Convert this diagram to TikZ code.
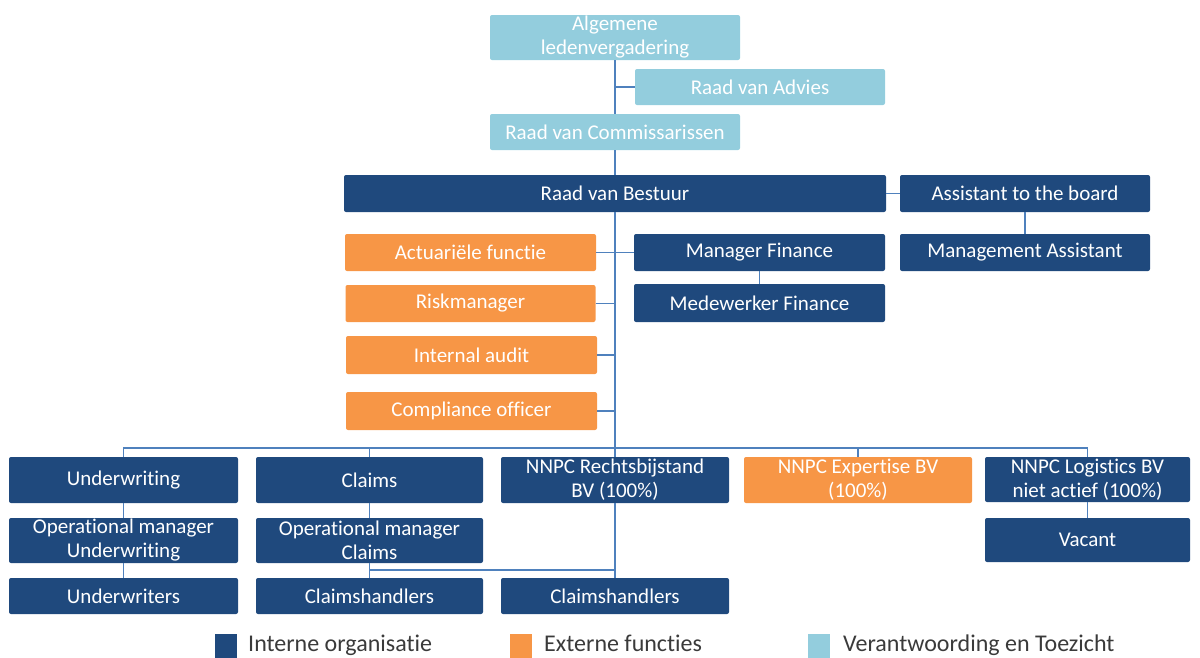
\documentclass[tikz,border=0pt]{standalone}
\usepackage{fontspec}
\setmainfont{Carlito}[Ligatures=NoCommon]
\usetikzlibrary{positioning}

\definecolor{navy}{HTML}{1F497D}
\definecolor{oranje}{HTML}{F79646}
\definecolor{lichtblauw}{HTML}{93CDDD}
\definecolor{lijn}{HTML}{4F81BD}
\definecolor{legendtext}{HTML}{3A3A3A}

\begin{document}
\begin{tikzpicture}[x=1pt, y=-1pt,
    box/.style={rectangle, rounded corners=2pt, text=white, align=center,
        inner sep=0pt, font=\fontsize{21}{24}\selectfont},
    intern/.style={box, fill=navy},
    extern/.style={box, fill=oranje},
    toezicht/.style={box, fill=lichtblauw},
    link/.style={draw=lijn, line width=1.5pt},
    key/.style={minimum width=22, minimum height=26, inner sep=0pt},
    legend/.style={text=legendtext, font=\fontsize{24}{26}\selectfont,
        inner sep=0pt, anchor=base west}]
    \useasboundingbox (0,0) rectangle (1200,657);

    % toezicht
    \node[toezicht, minimum width=250, minimum height=45] (alv) at (615,37.5) {Algemene\\ledenvergadering};
    \node[toezicht, minimum width=250, minimum height=36] (rva) at (760,87) {Raad van Advies};
    \node[toezicht, minimum width=250, minimum height=36] (rvc) at (615,132) {Raad van Commissarissen};

    % bestuur
    \node[intern, minimum width=542, minimum height=37] (rvb) at (615,193.5) {Raad van Bestuur};
    \node[intern, minimum width=250, minimum height=37] (atb) at (1025,193.5) {Assistant to the board};
    \node[intern, minimum width=250, minimum height=37] (ma) at (1025,252.5) {Management Assistant};
    \node[intern, minimum width=251, minimum height=37] (mf) at (759.5,252.5) {Manager Finance};
    \node[intern, minimum width=251, minimum height=38] (mwf) at (759.5,303) {Medewerker Finance};

    % externe functies
    \node[extern, minimum width=251, minimum height=37] (act) at (470.5,252.5) {Actuariële functie};
    \node[extern, minimum width=250, minimum height=37] (risk) at (470.5,303.5) {Riskmanager};
    \node[extern, minimum width=251, minimum height=38] (audit) at (471.5,355) {Internal audit};
    \node[extern, minimum width=251, minimum height=38] (comp) at (471.5,411) {Compliance officer};

    % afdelingen en deelnemingen
    \node[intern, minimum width=229, minimum height=46] (uw) at (123.5,480) {Underwriting};
    \node[intern, minimum width=227, minimum height=46] (claims) at (369.5,480) {Claims};
    \node[intern, minimum width=228, minimum height=46] (rb) at (615,480) {NNPC Rechtsbijstand\\BV (100\%)};
    \node[extern, minimum width=228, minimum height=46] (exp) at (858,480) {NNPC Expertise BV\\(100\%)};
    \node[intern, minimum width=205, minimum height=45] (log) at (1087.5,479.5) {NNPC Logistics BV\\niet actief (100\%)};

    \node[intern, minimum width=229, minimum height=45] (omuw) at (123.5,540.5) {Operational manager\\Underwriting};
    \node[intern, minimum width=227, minimum height=45] (omcl) at (369.5,540.5) {Operational manager\\Claims};
    \node[intern, minimum width=205, minimum height=44] (vac) at (1087.5,540) {Vacant};

    \node[intern, minimum width=229, minimum height=36] (uws) at (123.5,596) {Underwriters};
    \node[intern, minimum width=227, minimum height=36] (ch1) at (369.5,596) {Claimshandlers};
    \node[intern, minimum width=228, minimum height=36] (ch2) at (615,596) {Claimshandlers};

    % lijnen
    \coordinate (bus) at (615,448);
    \coordinate (split) at (369.5,570);
    \path[link] (alv) -- (rvc);
    \path[link] (rvc) -- (rvb);
    \path[link] (rva.west) -- (rva.west -| alv);
    \path[link] (rvb) -- (atb);
    \path[link] (atb) -- (ma);
    \path[link] (act) -- (mf);
    \path[link] (mf) -- (mwf);
    \path[link] (risk.east) -- (risk.east -| rvb);
    \path[link] (audit.east) -- (audit.east -| rvb);
    \path[link] (comp.east) -- (comp.east -| rvb);
    \path[link] (rvb) -- (rb);
    \path[link] (uw) |- (bus) -| (log);
    \path[link] (claims) -- (claims |- bus);
    \path[link] (exp) -- (exp |- bus);
    \path[link] (uw) -- (omuw);
    \path[link] (omuw) -- (uws);
    \path[link] (claims) -- (omcl);
    \path[link] (omcl) -- (ch1);
    \path[link] (log) -- (vac);
    \path[link] (rb) -- (ch2);
    \path[link] (split) -- (split -| ch2);

    % legenda
    \node[key, fill=navy] (keyintern) at (226,647) {};
    \node[legend] (lblintern) at (248,651) {Interne organisatie};
    \node[key, fill=oranje] (keyextern) at (521,647) {};
    \node[legend] (lblextern) at (544,651) {Externe functies};
    \node[key, fill=lichtblauw] (keytoezicht) at (819,647) {};
    \node[legend] (lbltoezicht) at (843,651) {Verantwoording en Toezicht};
\end{tikzpicture}
\end{document}
